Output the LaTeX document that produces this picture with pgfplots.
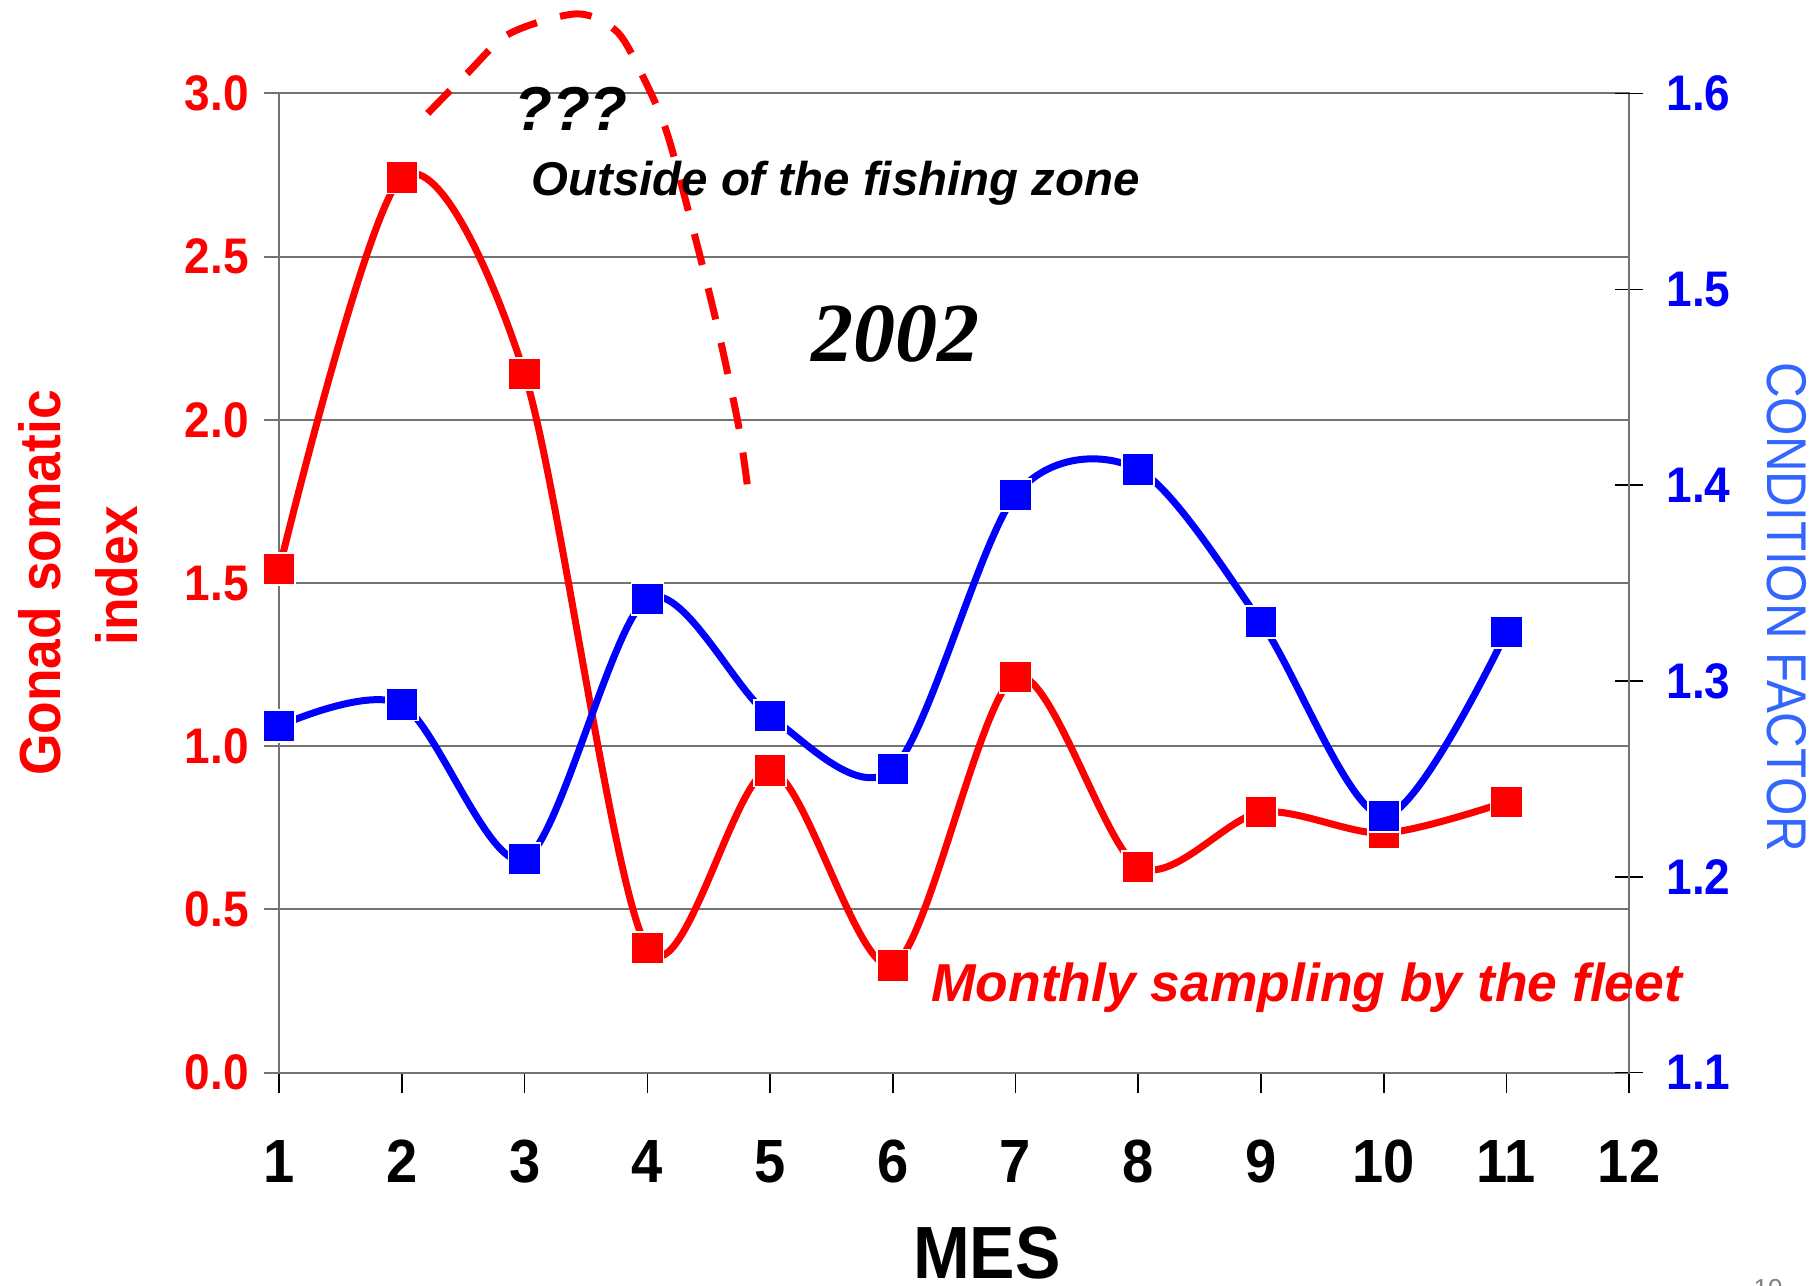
\documentclass[border=0pt]{standalone}
\usepackage{pgfplots}
\pgfplotsset{compat=1.18}
\usepackage{fontspec}
\setmainfont{Liberation Sans}
\newfontfamily\timesfont{Liberation Serif}
\newfontfamily\cffont[FakeStretch=0.88]{Liberation Sans}
\newfontfamily\nbf[FakeStretch=0.92]{Liberation Sans}
\definecolor{cfblue}{RGB}{51,102,255}
\definecolor{gridgray}{RGB}{115,115,115}
\begin{document}
\begin{tikzpicture}[x=1pt,y=1pt]
\useasboundingbox (0,0) rectangle (908.5,643);
\begin{axis}[
  at={(139.6pt,106.65pt)}, anchor=south west,
  scale only axis, width=675pt, height=489.6pt,
  xmin=1, xmax=12, ymin=0, ymax=3,
  xtick={1,...,12}, ytick={0,0.5,...,3},
  xtick pos=bottom, ytick pos=left,
  tick align=outside,
  xtick style={black, line width=0.8pt, /pgfplots/major tick length=10pt},
  ytick style={gridgray, line width=1pt, /pgfplots/major tick length=7.5pt},
  ymajorgrids, major grid style={gridgray, line width=1pt},
  axis line style={gridgray, line width=1pt},
  /pgf/number format/assume math mode=true,
  yticklabel={\pgfmathprintnumber[fixed,fixed zerofill,precision=1]{\tick}},
  yticklabel style={font=\nbf\bfseries\fontsize{25}{25}\selectfont, text=red, anchor=east, xshift=-7.5pt},
  xticklabel style={font=\nbf\bfseries\fontsize{30.5}{30.5}\selectfont, text=black, anchor=north, yshift=-26pt},
  clip=false,
]
\addplot[red, line width=3.5pt, smooth, tension=0.5,
  mark=square*, mark size=8pt, mark options={solid, fill=red, draw=white, line width=0.8pt}]
  coordinates {(1,1.543) (2,2.743) (3,2.140) (4,0.382) (5,0.926) (6,0.329)
               (7,1.213) (8,0.631) (9,0.798) (10,0.734) (11,0.830)};
\addplot[red, line width=3.5pt, smooth, tension=0.5, dash pattern=on 16pt off 12pt]
  coordinates {(2.210,2.939) (2.538,3.064) (2.879,3.184) (3.427,3.244) (3.753,3.189)
               (3.965,3.051) (4.152,2.888) (4.332,2.643) (4.552,2.315) (4.739,1.990) (4.816,1.795)};
\end{axis}
\begin{axis}[
  at={(139.6pt,106.65pt)}, anchor=south west,
  scale only axis, width=675pt, height=489.6pt,
  xmin=1, xmax=12, ymin=1.1, ymax=1.6,
  axis x line=none, axis y line*=right,
  ytick={1.1,1.2,...,1.6},
  tick align=center,
  ytick style={black, line width=0.8pt, /pgfplots/major tick length=14pt},
  axis line style={gridgray, line width=1pt},
  /pgf/number format/assume math mode=true,
  yticklabel={\pgfmathprintnumber[fixed,fixed zerofill,precision=1]{\tick}},
  yticklabel style={font=\nbf\bfseries\fontsize{25}{25}\selectfont, text=blue, anchor=west, xshift=13pt},
  clip=false,
]
\addplot[blue, line width=3.5pt, smooth, tension=0.5,
  mark=square*, mark size=8pt, mark options={solid, fill=blue, draw=white, line width=0.8pt}]
  coordinates {(1,1.277) (2,1.288) (3,1.209) (4,1.342) (5,1.282) (6,1.255)
               (7,1.395) (8,1.408) (9,1.330) (10,1.231) (11,1.325)};
\end{axis}
% annotations
\node[anchor=center, font=\bfseries\itshape\fontsize{31}{31}\selectfont] at (285.5,588.5) {???};
\node[anchor=base west, inner sep=0pt, font=\bfseries\itshape\fontsize{23.7}{23.7}\selectfont] at (265.5,545) {Outside of the fishing zone};
\node[anchor=center, font=\timesfont\bfseries\itshape\fontsize{42}{42}\selectfont] at (447.5,476) {2002};
\node[anchor=base west, inner sep=0pt, text=red, font=\bfseries\itshape\fontsize{26.7}{26.7}\selectfont] at (465.5,142) {Monthly sampling by the fleet};
% axis titles
\node[rotate=90, anchor=base, inner sep=0pt, text=red, font=\nbf\bfseries\fontsize{29}{29}\selectfont] at (30,351.5) {Gonad somatic};
\node[rotate=90, anchor=base, inner sep=0pt, text=red, font=\nbf\bfseries\fontsize{29}{29}\selectfont] at (68.5,355) {index};
\node[rotate=-90, anchor=base, inner sep=0pt, text=cfblue, font=\cffont\fontsize{28}{28}\selectfont] at (883.5,339.5) {CONDITION FACTOR};
\node[anchor=base, inner sep=0pt, font=\nbf\bfseries\fontsize{37}{37}\selectfont] at (493.5,3.5) {MES};
\node[anchor=north, inner sep=0pt, text=gray, font=\fontsize{13}{13}\selectfont] at (884,3.5) {10};
\end{tikzpicture}
\end{document}
